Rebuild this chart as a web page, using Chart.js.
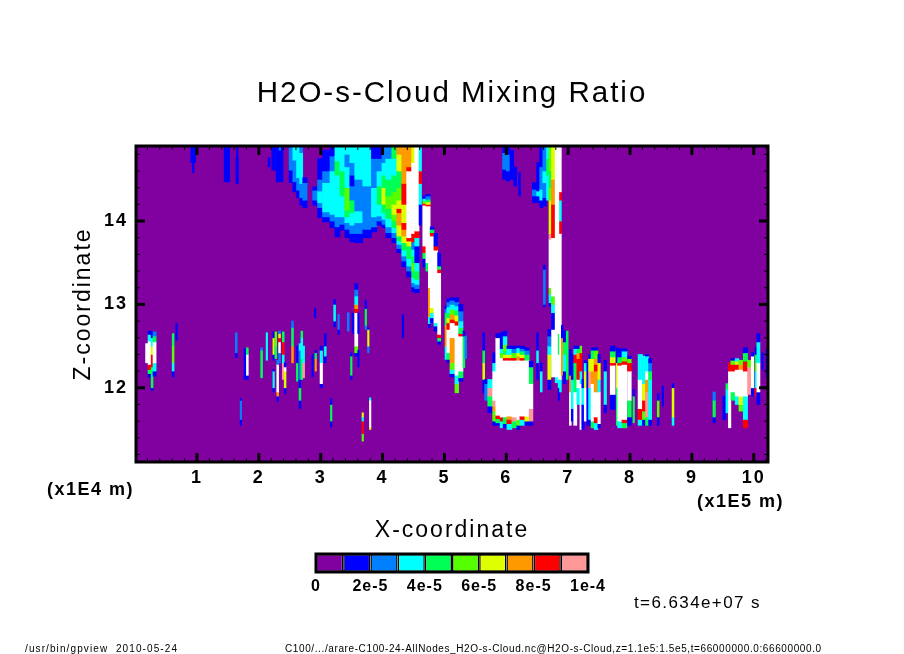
<!DOCTYPE html>
<html>
<head>
<meta charset="utf-8">
<title>H2O-s-Cloud Mixing Ratio</title>
<script src="https://cdn.jsdelivr.net/npm/chart.js@4"></script>
<style>
  html, body { margin: 0; background: #fff; }
  #wrap { position: relative; width: 904px; height: 654px; overflow: hidden; }
  #mixing { position: absolute; left: 0; top: 0; }
  #colorbar { position: absolute; left: 300px; top: 545px; }
</style>
</head>
<body>
<div id="wrap">
  <canvas id="mixing" width="904" height="654"></canvas>
  <canvas id="colorbar" width="320" height="55"></canvas>
</div>
<script>
// shade for each contour band: index 0 is below the first level, 10 is above the last
const bandColors = ['#8000a0', '#0000ff', '#0080ff', '#00ffff', '#00ff55', '#55ff00', '#ddff00', '#ff9900', '#ff0000', '#ff9999', '#ffffff'];
const levelEdges = [0, 1e-5, 2e-5, 3e-5, 4e-5, 5e-5, 6e-5, 7e-5, 8e-5, 9e-5, 1e-4];
const levelTicks = [0, 2e-5, 4e-5, 6e-5, 8e-5, 1e-4];
const levelTickLabels = ['0', '2e-5', '4e-5', '6e-5', '8e-5', '1e-4'];
const xTicks = [1, 2, 3, 4, 5, 6, 7, 8, 9, 10];
const zTicks = [12, 13, 14];
const xRange = [0.015, 10.23];
const zRange = [11.11, 14.9];

// every row: x from, x to, then z, band, z, band, z ... going up the column
const background = [[0.015, 10.23, 11.11, 0, 14.9]];

const topStreaks = [
  [0.90, 0.98, 14.70, 1, 14.9], [0.93, 0.95, 14.58, 1, 14.70],
  [1.44, 1.53, 14.47, 1, 14.9], [1.63, 1.67, 14.45, 1, 14.76], [1.64, 1.66, 14.76, 1, 14.9],
  [2.15, 2.18, 14.65, 1, 14.76], [2.21, 2.28, 14.61, 1, 14.9], [2.28, 2.39, 14.47, 1, 14.9],
  [2.33, 2.35, 14.85, 2, 14.9],
  [2.49, 2.55, 14.46, 1, 14.61, 2, 14.9],
  [2.55, 2.61, 14.35, 1, 14.47, 2, 14.73, 3, 14.9],
  [2.61, 2.66, 14.28, 1, 14.37, 2, 14.52, 3, 14.9],
  [2.66, 2.71, 14.19, 1, 14.28, 2, 14.45, 3, 14.82, 2, 14.9],
  [2.71, 2.78, 14.16, 1, 14.25, 2, 14.46, 1, 14.52]
];

const upperWedge = [
  [2.87, 2.95, 14.19, 1, 14.25, 2, 14.37, 1, 14.41],
  [2.95, 3.03, 14.04, 1, 14.16, 2, 14.22, 3, 14.36, 2, 14.5, 1, 14.75],
  [3.03, 3.15, 13.99, 1, 14.05, 2, 14.11, 3, 14.46, 2, 14.6, 1, 14.85],
  [3.15, 3.23, 13.92, 1, 14.0, 2, 14.08, 3, 14.6, 2, 14.78, 1, 14.9],
  [3.23, 3.31, 13.81, 1, 13.93, 2, 14.05, 3, 14.55, 4, 14.72, 3, 14.9],
  [3.31, 3.39, 13.89, 1, 13.96, 2, 14.05, 3, 14.3, 4, 14.6, 3, 14.9],
  [3.39, 3.47, 13.80, 1, 13.9, 2, 13.98, 3, 14.05, 4, 14.13, 5, 14.4, 3, 14.65, 2, 14.8, 3, 14.9],
  [3.47, 3.55, 13.75, 1, 13.85, 2, 13.95, 3, 14.1, 4, 14.25, 2, 14.42, 1, 14.55, 2, 14.7, 3, 14.9],
  [3.55, 3.68, 13.74, 1, 13.85, 2, 13.98, 3, 14.12, 2, 14.5, 3, 14.9],
  [3.68, 3.82, 13.80, 1, 13.9, 2, 14.42, 3, 14.9],
  [3.82, 3.91, 13.87, 1, 13.93, 2, 14.05, 3, 14.4, 2, 14.75, 1, 14.9],
  [3.91, 3.99, 13.95, 1, 14.0, 2, 14.06, 3, 14.2, 4, 14.42, 3, 14.6, 2, 14.75, 1, 14.9],
  [3.99, 4.05, 13.92, 1, 13.96, 2, 14.02, 3, 14.1, 4, 14.2, 6, 14.4, 4, 14.55, 3, 14.7, 2, 14.9],
  [4.05, 4.15, 13.80, 1, 13.86, 2, 13.93, 3, 14.03, 4, 14.15, 5, 14.3, 4, 14.5, 3, 14.75, 2, 14.9],
  [4.15, 4.23, 13.74, 1, 13.8, 2, 13.86, 3, 13.92, 4, 14.0, 5, 14.08, 6, 14.2, 5, 14.35, 4, 14.55, 3, 14.75, 4, 14.9],
  [4.23, 4.31, 13.62, 1, 13.67, 2, 13.72, 3, 13.76, 4, 13.82, 6, 13.95, 7, 14.1, 8, 14.15, 6, 14.25, 5, 14.4, 4, 14.6, 6, 14.8, 7, 14.9],
  [4.31, 4.39, 13.45, 1, 13.52, 2, 13.58, 3, 13.65, 4, 13.74, 6, 13.82, 7, 13.9, 8, 13.98, 6, 14.2, 8, 14.45, 7, 14.9],
  [4.39, 4.47, 13.33, 1, 13.4, 2, 13.46, 3, 13.55, 4, 13.7, 6, 13.76, 8, 13.8, 10, 14.6, 8, 14.65, 7, 14.9],
  [4.47, 4.52, 13.15, 1, 13.21, 2, 13.26, 3, 13.32, 4, 13.4, 5, 13.5, 4, 13.58, 3, 13.66, 2, 13.75, 8, 13.85, 10, 14.7, 6, 14.9],
  [4.52, 4.59, 13.14, 1, 13.19, 2, 13.24, 3, 13.3, 4, 13.4, 3, 13.5, 1, 13.7, 3, 13.8, 8, 13.88, 10, 14.9],
  [4.59, 4.63, 13.95, 1, 14.2, 3, 14.45, 8, 14.6, 3, 14.9]
];

const slantedStreaks = [
  [4.65, 4.70, 13.45, 1, 13.55, 4, 13.62, 8, 13.7, 10, 14.19, 8, 14.21, 5, 14.24, 3, 14.27, 1, 14.3],
  [4.70, 4.74, 13.4, 4, 13.5, 10, 14.18, 8, 14.2, 6, 14.23, 4, 14.26, 2, 14.3, 1, 14.32],
  [4.74, 4.77, 12.72, 1, 12.77, 3, 12.85, 7, 13.2, 10, 14.18, 8, 14.2, 6, 14.23, 4, 14.26, 2, 14.3, 1, 14.32],
  [4.77, 4.83, 12.78, 1, 12.84, 3, 12.9, 6, 12.96, 10, 13.82, 8, 13.86, 4, 13.9, 1, 13.93],
  [4.83, 4.89, 12.68, 1, 12.74, 3, 12.78, 10, 13.65, 8, 13.7, 1, 13.85],
  [4.89, 4.94, 12.52, 1, 12.56, 4, 12.6, 8, 12.64, 10, 13.38, 8, 13.42, 4, 13.46, 1, 13.62],
  [5.01, 5.04, 12.34, 3, 12.5, 7, 12.75, 4, 12.9, 2, 12.95, 1, 12.98],
  [5.04, 5.09, 12.3, 1, 12.34, 4, 12.42, 10, 12.7, 8, 12.78, 6, 12.84, 4, 12.9, 3, 12.97, 2, 13.03, 1, 13.07],
  [5.09, 5.17, 12.13, 1, 12.17, 3, 12.22, 5, 12.3, 7, 12.6, 10, 12.78, 8, 12.82, 7, 12.88, 5, 12.94, 3, 13.0, 2, 13.05, 1, 13.08],
  [5.17, 5.23, 11.94, 5, 12.05, 3, 12.15, 10, 12.75, 8, 12.8, 6, 12.87, 4, 12.93, 3, 12.98, 2, 13.03, 1, 13.08],
  [5.23, 5.30, 12.08, 1, 12.12, 4, 12.2, 10, 12.62, 8, 12.65, 4, 12.72, 3, 12.8, 2, 12.92, 1, 13.0],
  [5.30, 5.33, 12.24, 4, 12.62, 1, 12.68],
  [5.33, 5.36, 12.35, 2, 12.62]
];

const centralPlume = [
  [5.94, 6.0, 14.5, 1, 14.62, 2, 14.82, 1, 14.88], [6.0, 6.06, 14.48, 1, 14.6, 2, 14.8, 1, 14.9],
  [6.06, 6.12, 14.5, 1, 14.85], [6.12, 6.17, 14.42, 1, 14.65], [6.2, 6.23, 14.3, 1, 14.58],
  [6.42, 6.49, 14.22, 1, 14.3, 2, 14.38, 1, 14.46],
  [6.49, 6.54, 14.22, 1, 14.3, 3, 14.36, 1, 14.7],
  [6.54, 6.59, 14.16, 1, 14.25, 3, 14.38, 2, 14.65, 1, 14.9],
  [6.59, 6.65, 14.18, 1, 14.28, 2, 14.46, 3, 14.6, 2, 14.9],
  [6.6, 6.63, 12.97, 1, 13.0, 2, 13.42, 1, 13.47],
  [6.65, 6.69, 14.25, 3, 14.55, 4, 14.75, 3, 14.9],
  [6.69, 6.73, 12.98, 1, 13.02, 3, 13.12, 5, 13.2, 10, 13.78, 9, 13.85, 6, 14.25, 5, 14.4, 4, 14.6, 5, 14.9],
  [6.73, 6.79, 12.13, 10, 12.7, 1, 12.9, 3, 13.0, 5, 13.1, 10, 13.8, 8, 14.2, 7, 14.5, 6, 14.9],
  [6.79, 6.84, 12.06, 3, 12.13, 10, 14.9],
  [6.84, 6.86, 11.85, 1, 12.0, 3, 12.1, 10, 12.4, 4, 12.65, 10, 14.9],
  [6.86, 6.89, 11.95, 3, 12.1, 10, 13.85, 8, 14.0, 3, 14.25, 8, 14.35, 10, 14.9],
  [6.89, 6.92, 12.15, 7, 12.6, 1, 12.75]
];

const lowerBlob = [
  [5.62, 5.65, 11.94, 1, 12.1, 6, 12.3, 4, 12.45, 1, 12.66],
  [5.65, 5.70, 11.85, 2, 12.05, 1, 12.1],
  [5.70, 5.78, 11.7, 1, 11.78, 4, 11.9, 9, 12.0, 3, 12.1],
  [5.78, 5.83, 11.55, 1, 11.6, 5, 11.72, 7, 11.78, 9, 11.85, 10, 12.2, 3, 12.3, 1, 12.42],
  [5.83, 5.90, 11.55, 1, 11.58, 4, 11.63, 8, 11.67, 10, 12.6, 1, 12.65],
  [5.90, 5.95, 11.52, 3, 11.6, 8, 11.65, 10, 12.36, 5, 12.42, 3, 12.47, 1, 12.66],
  [5.95, 6.01, 11.52, 1, 11.57, 4, 11.65, 10, 12.33, 8, 12.36, 6, 12.4, 4, 12.44, 5, 12.52, 3, 12.62, 1, 12.68],
  [6.01, 6.09, 11.5, 3, 11.57, 8, 11.62, 7, 11.66, 10, 12.33, 8, 12.36, 6, 12.4, 3, 12.47, 1, 12.5],
  [6.09, 6.17, 11.52, 4, 11.6, 9, 11.65, 10, 12.33, 8, 12.36, 5, 12.42, 2, 12.47, 1, 12.5],
  [6.17, 6.22, 11.5, 1, 11.55, 5, 11.62, 10, 12.33, 7, 12.38, 6, 12.42, 3, 12.48, 1, 12.5],
  [6.22, 6.30, 11.55, 3, 11.62, 8, 11.66, 10, 12.33, 8, 12.36, 6, 12.4, 4, 12.44, 2, 12.47, 1, 12.5],
  [6.30, 6.37, 11.55, 1, 11.6, 6, 11.66, 10, 12.33, 4, 12.4, 2, 12.45, 1, 12.48],
  [6.37, 6.43, 11.55, 1, 11.6, 9, 11.75, 10, 12.05, 4, 12.25, 1, 12.32],
  [6.49, 6.52, 12.1, 1, 12.3, 3, 12.45, 1, 12.66],
  [6.55, 6.58, 11.95, 3, 12.2, 1, 12.3],
  [6.67, 6.72, 11.98, 1, 12.1, 6, 12.4, 3, 12.5, 2, 12.62, 1, 12.7],
  [6.92, 6.97, 12.05, 1, 12.2, 3, 12.4, 4, 12.55, 1, 12.68],
  [6.97, 7.0, 12.1, 4, 12.68]
];

const eastCluster = [
  [7.02, 7.05, 11.55, 10, 11.95, 7, 12.15, 1, 12.46],
  [7.05, 7.09, 11.6, 1, 11.75, 3, 12.1, 1, 12.4],
  [7.09, 7.14, 11.55, 10, 11.95, 4, 12.3, 8, 12.4, 3, 12.47, 1, 12.5],
  [7.14, 7.19, 11.8, 3, 12.0, 10, 12.1, 8, 12.35, 7, 12.42, 4, 12.47, 1, 12.5],
  [7.19, 7.22, 11.5, 10, 12.05, 3, 12.2, 8, 12.42, 5, 12.5],
  [7.22, 7.26, 11.5, 1, 11.8, 3, 12.0, 1, 12.1],
  [7.26, 7.30, 11.6, 10, 12.0, 6, 12.2, 3, 12.3, 1, 12.33],
  [7.30, 7.33, 11.55, 1, 12.3],
  [7.33, 7.37, 11.55, 1, 11.62, 3, 12.0, 9, 12.2, 6, 12.35, 1, 12.4],
  [7.37, 7.42, 11.52, 4, 11.6, 10, 12.05, 7, 12.2, 6, 12.35, 4, 12.45, 1, 12.48],
  [7.42, 7.48, 11.5, 3, 11.58, 8, 11.65, 10, 11.95, 7, 12.2, 8, 12.28, 7, 12.35, 5, 12.45, 1, 12.48],
  [7.48, 7.52, 11.52, 1, 11.57, 10, 11.95, 3, 12.1, 6, 12.3, 1, 12.4],
  [7.58, 7.62, 11.7, 1, 11.8, 3, 12.2, 1, 12.33],
  [7.68, 7.76, 11.74, 1, 11.92, 10, 12.27, 8, 12.3, 6, 12.37, 4, 12.44, 1, 12.5],
  [7.78, 7.80, 11.55, 4, 12.0, 6, 12.3, 1, 12.48],
  [7.80, 7.87, 11.52, 3, 11.6, 10, 12.27, 8, 12.3, 4, 12.37, 1, 12.47],
  [7.87, 7.95, 11.52, 4, 11.58, 8, 11.62, 10, 12.28, 8, 12.32, 5, 12.37, 3, 12.44, 1, 12.47],
  [7.96, 8.02, 11.55, 1, 11.65, 4, 11.85, 10, 12.2, 8, 12.3, 5, 12.35, 1, 12.38],
  [8.05, 8.07, 11.58, 4, 11.9, 1, 11.98],
  [8.13, 8.20, 11.55, 3, 11.62, 8, 11.75, 10, 12.1, 3, 12.4],
  [8.20, 8.25, 11.55, 1, 11.62, 5, 11.72, 8, 11.85, 6, 12.05, 3, 12.38],
  [8.25, 8.30, 11.55, 4, 11.65, 9, 11.95, 7, 12.1, 10, 12.2, 3, 12.38, 1, 12.4],
  [8.30, 8.35, 11.55, 1, 11.62, 3, 12.1, 4, 12.2, 2, 12.3, 1, 12.35],
  [8.44, 8.47, 11.55, 1, 11.65, 5, 11.85, 1, 11.93],
  [8.52, 8.54, 11.78, 1, 12.02],
  [8.68, 8.71, 11.55, 3, 11.65, 6, 12.0, 1, 12.05],
  [9.34, 9.38, 11.58, 1, 11.65, 4, 11.85, 2, 11.95],
  [9.50, 9.55, 11.62, 1, 11.9],
  [9.55, 9.58, 11.7, 3, 11.98, 4, 12.05],
  [9.59, 9.63, 11.52, 10, 12.2, 8, 12.3],
  [9.63, 9.70, 11.85, 4, 11.95, 10, 12.2, 8, 12.28, 5, 12.33, 1, 12.35],
  [9.70, 9.76, 11.8, 3, 11.9, 10, 12.22, 8, 12.28, 6, 12.32, 3, 12.35],
  [9.76, 9.83, 11.72, 5, 11.8, 6, 11.9, 10, 12.22, 7, 12.28, 5, 12.33],
  [9.83, 9.90, 11.52, 8, 11.62, 3, 11.9, 10, 12.2, 8, 12.32, 4, 12.42, 1, 12.48],
  [9.90, 9.95, 11.92, 9, 12.25, 5, 12.33],
  [9.96, 10.0, 11.9, 1, 12.0, 10, 12.38, 1, 12.42],
  [10.02, 10.05, 11.9, 8, 12.0, 3, 12.2, 5, 12.3, 4, 12.4, 1, 12.48],
  [10.05, 10.10, 11.8, 1, 11.95, 10, 12.3, 3, 12.55, 1, 12.65],
  [10.13, 10.15, 12.22, 1, 12.42],
  [10.20, 10.22, 12.13, 1, 12.46]
];

const westStreaks = [
  [0.17, 0.21, 12.3, 10, 12.53],
  [0.21, 0.26, 12.13, 1, 12.17, 4, 12.22, 8, 12.28, 10, 12.56, 3, 12.64, 1, 12.68],
  [0.26, 0.29, 11.97, 1, 12.0, 4, 12.25, 8, 12.4, 6, 12.5, 3, 12.6, 1, 12.67],
  [0.29, 0.34, 12.14, 1, 12.2, 3, 12.3, 10, 12.55, 4, 12.62, 2, 12.67],
  [0.60, 0.63, 12.13, 1, 12.2, 3, 12.3, 5, 12.5, 4, 12.65],
  [0.66, 0.68, 12.57, 1, 12.77],
  [1.62, 1.65, 12.36, 1, 12.42, 2, 12.66],
  [1.70, 1.72, 11.55, 1, 11.62, 2, 11.85, 1, 11.87],
  [1.76, 1.79, 12.1, 1, 12.47],
  [1.80, 1.83, 12.1, 1, 12.15, 10, 12.4, 4, 12.48],
  [2.03, 2.06, 12.12, 4, 12.45, 2, 12.48],
  [2.12, 2.14, 12.33, 3, 12.66],
  [2.23, 2.25, 11.95, 1, 12.0, 3, 12.2, 1, 12.22],
  [2.23, 2.25, 12.33, 1, 12.4, 6, 12.6, 1, 12.67],
  [2.26, 2.29, 12.35, 4, 12.5, 5, 12.67],
  [2.29, 2.32, 11.84, 1, 11.9, 7, 11.95, 10, 12.28, 2, 12.33],
  [2.32, 2.35, 12.3, 2, 12.42, 10, 12.55, 8, 12.6, 6, 12.65, 2, 12.68],
  [2.38, 2.41, 12.1, 9, 12.3, 3, 12.4, 8, 12.55, 4, 12.67],
  [2.41, 2.44, 11.93, 1, 12.0, 6, 12.2, 10, 12.25, 1, 12.3],
  [2.53, 2.56, 12.3, 7, 12.5, 4, 12.72, 2, 12.8],
  [2.61, 2.63, 12.08, 4, 12.3, 1, 12.5],
  [2.65, 2.68, 11.75, 1, 11.85, 4, 12.0, 1, 12.1, 2, 12.45, 3, 12.53],
  [2.68, 2.71, 12.1, 4, 12.35, 3, 12.6, 4, 12.68],
  [2.71, 2.74, 12.12, 9, 12.3, 3, 12.5],
  [2.86, 2.88, 12.13, 1, 12.4],
  [2.90, 2.92, 12.84, 1, 12.95],
  [2.91, 2.93, 12.2, 7, 12.35, 4, 12.42, 1, 12.45],
  [2.99, 3.03, 12.0, 1, 12.05, 10, 12.3, 3, 12.45, 1, 12.5],
  [3.06, 3.09, 12.3, 1, 12.38, 3, 12.5, 1, 12.65],
  [3.16, 3.18, 11.53, 1, 11.6, 4, 11.8, 1, 11.87],
  [3.21, 3.24, 12.73, 1, 12.8, 3, 13.0, 1, 13.06],
  [3.28, 3.30, 12.64, 1, 12.7, 2, 12.88],
  [3.43, 3.46, 12.68, 2, 12.9],
  [3.49, 3.50, 12.1, 1, 12.15, 4, 12.38, 1, 12.42],
  [3.51, 3.53, 12.65, 1, 12.9],
  [3.55, 3.60, 12.38, 1, 12.42, 5, 12.5, 10, 12.9, 8, 12.95, 7, 13.0, 3, 13.1, 2, 13.18, 1, 13.25],
  [3.60, 3.62, 12.25, 1, 12.45], [3.60, 3.62, 12.65, 1, 12.9],
  [3.67, 3.69, 11.36, 5, 11.45, 8, 11.6, 3, 11.65, 6, 11.7],
  [3.72, 3.74, 12.7, 2, 12.75, 4, 12.95, 1, 13.05],
  [3.76, 3.78, 12.42, 2, 12.5, 6, 12.7, 1, 12.72],
  [3.79, 3.81, 11.5, 6, 11.53, 10, 11.85, 3, 11.88],
  [4.32, 4.34, 12.6, 1, 12.88]
];

const allColumns = [...background, ...topStreaks, ...upperWedge, ...slantedStreaks, ...centralPlume, ...lowerBlob, ...eastCluster, ...westStreaks];

const plotWidth = 632;
const pxPerUnit = plotWidth / (xRange[1] - xRange[0]);

function columnDataset(row) {
  const x = (row[0] + row[1]) / 2;
  const data = [], colors = [];
  for (let i = 2; i + 2 < row.length; i += 2) {
    data.push({ x: x, y: [row[i], row[i + 2]] });
    colors.push(bandColors[row[i + 1]]);
  }
  return { data: data, backgroundColor: colors, barThickness: Math.max(1.5, (row[1] - row[0]) * pxPerUnit), yAxisID: 'y' };
}

// chart.js paints the first dataset last, so turn the list round
const columnSets = allColumns.map(columnDataset).reverse();

const spacedText = {
  id: 'spacedText',
  beforeDraw(chart) { chart.ctx.letterSpacing = '2px'; }
};

const frameTicks = {
  id: 'frameTicks',
  afterDatasetsDraw(chart) {
    const ctx = chart.ctx, a = chart.chartArea, sx = chart.scales.x, sz = chart.scales.y;
    ctx.save();
    ctx.strokeStyle = '#000';
    const mark = (x0, y0, x1, y1, w) => {
      ctx.lineWidth = w;
      ctx.beginPath(); ctx.moveTo(x0, y0); ctx.lineTo(x1, y1); ctx.stroke();
    };
    for (let v = 0.2; v < xRange[1]; v += 0.2) {
      const major = Math.abs(v - Math.round(v)) < 0.01;
      const p = sx.getPixelForValue(v), len = major ? 9 : 4, w = major ? 3 : 1;
      mark(p, a.bottom, p, a.bottom - len, w);
      mark(p, a.top, p, a.top + len, w);
    }
    for (let v = 11.2; v < zRange[1]; v += 0.2) {
      const major = Math.abs(v - Math.round(v)) < 0.01;
      const p = sz.getPixelForValue(v), len = major ? 9 : 4, w = major ? 3 : 1;
      mark(a.left, p, a.left + len, p, w);
      mark(a.right, p, a.right - len, p, w);
    }
    ctx.lineWidth = 3;
    ctx.strokeRect(a.left, a.top, a.right - a.left, a.bottom - a.top);
    ctx.restore();
  }
};

const captions = {
  id: 'captions',
  afterDraw(chart) {
    const ctx = chart.ctx;
    const put = (text, x, y, size, spacing, weight) => {
      ctx.font = (weight || 'normal') + ' ' + size + 'px "Liberation Sans"';
      ctx.letterSpacing = spacing + 'px';
      ctx.fillText(text, x, y);
    };
    ctx.save();
    ctx.fillStyle = '#000';
    ctx.textAlign = 'left';
    ctx.textBaseline = 'middle';
    put('(x1E4 m)', 47, 490, 18, 1.5, 'bold');
    put('(x1E5 m)', 697, 502, 18, 1.5, 'bold');
    put('t=6.634e+07 s', 634, 603, 17, 1.4);
    put('/usr/bin/gpview  2010-05-24', 25, 649, 10, 1.1);
    put('C100/.../arare-C100-24-AllNodes_H2O-s-Cloud.nc@H2O-s-Cloud,z=1.1e5:1.5e5,t=66000000.0:66600000.0', 285, 649, 10, 0.61);
    ctx.restore();
  }
};

const tickFont = { family: '"Liberation Sans"', size: 18, weight: 'bold' };

new Chart(document.getElementById('mixing'), {
  type: 'bar',
  data: { datasets: columnSets },
  options: {
    responsive: false,
    animation: false,
    events: [],
    parsing: { xAxisKey: 'x', yAxisKey: 'y' },
    datasets: { bar: { grouped: false, borderWidth: 0 } },
    layout: { padding: { left: 0, right: 0, top: 0, bottom: 110 } },
    plugins: {
      legend: { display: false },
      tooltip: { enabled: false },
      title: {
        display: true,
        text: 'H2O-s-Cloud Mixing Ratio',
        color: '#000',
        font: { family: '"Liberation Sans"', size: 29.5, weight: 'normal', lineHeight: 1.2 },
        padding: { top: 76, bottom: 34.6 }
      }
    },
    scales: {
      x: {
        type: 'linear',
        offset: false,
        min: xRange[0],
        max: xRange[1],
        grid: { display: false, drawTicks: false },
        border: { display: false },
        afterBuildTicks(scale) { scale.ticks = xTicks.map(v => ({ value: v })); },
        afterFit(scale) { scale.height = 82; },
        ticks: { color: '#000', font: tickFont, padding: 5, autoSkip: false, maxRotation: 0 },
        title: {
          display: true,
          text: 'X-coordinate',
          color: '#000',
          font: { family: '"Liberation Sans"', size: 23 },
          padding: 0
        }
      },
      y: {
        type: 'linear',
        min: zRange[0],
        max: zRange[1],
        grid: { display: false, drawTicks: false },
        border: { display: false },
        afterBuildTicks(scale) { scale.ticks = zTicks.map(v => ({ value: v })); },
        afterFit(scale) { scale.width = 136; },
        ticks: { color: '#000', font: tickFont, padding: 8 },
        title: {
          display: true,
          text: 'Z-coordinate',
          color: '#000',
          font: { family: '"Liberation Sans"', size: 23 },
          padding: { top: 70, bottom: 0 }
        }
      },
      // empty axis that only keeps the right margin, so the title centres on the page
      rightMargin: {
        type: 'linear',
        position: 'right',
        grid: { display: false, drawTicks: false },
        border: { display: false },
        ticks: { display: false },
        afterFit(scale) { scale.width = 136; }
      }
    }
  },
  plugins: [spacedText, frameTicks, captions]
});

// colour key under the plot
const keySets = bandColors.slice(0, 10).map((c, i) => ({
  data: [[levelEdges[i], levelEdges[i + 1]]],
  backgroundColor: c,
  borderColor: '#000',
  borderWidth: 1.5,
  borderSkipped: false,
  inflateAmount: 0,
  grouped: false,
  barPercentage: 1,
  categoryPercentage: 1
}));

const keyFrame = {
  id: 'keyFrame',
  beforeDraw(chart) { chart.ctx.letterSpacing = '1px'; },
  afterDatasetsDraw(chart) {
    const a = chart.chartArea, ctx = chart.ctx;
    ctx.save();
    ctx.strokeStyle = '#000';
    ctx.lineWidth = 3;
    ctx.strokeRect(a.left, a.top, a.right - a.left, a.bottom - a.top);
    ctx.restore();
  }
};

new Chart(document.getElementById('colorbar'), {
  type: 'bar',
  data: { labels: ['level'], datasets: keySets },
  options: {
    indexAxis: 'y',
    responsive: false,
    animation: false,
    events: [],
    layout: { padding: { left: 16, right: 32, top: 9, bottom: 0 } },
    plugins: { legend: { display: false }, tooltip: { enabled: false } },
    scales: {
      y: { display: false },
      x: {
        type: 'linear',
        min: 0,
        max: 1e-4,
        grid: { display: false, drawTicks: false },
        border: { display: false },
        afterBuildTicks(scale) { scale.ticks = levelTicks.map(v => ({ value: v })); },
        afterFit(scale) { scale.height = 28; },
        ticks: {
          color: '#000',
          font: { family: '"Liberation Sans"', size: 16, weight: 'bold' },
          padding: 5,
          autoSkip: false,
          maxRotation: 0,
          callback: (v, i) => levelTickLabels[i]
        }
      }
    }
  },
  plugins: [keyFrame]
});
</script>
</body>
</html>
